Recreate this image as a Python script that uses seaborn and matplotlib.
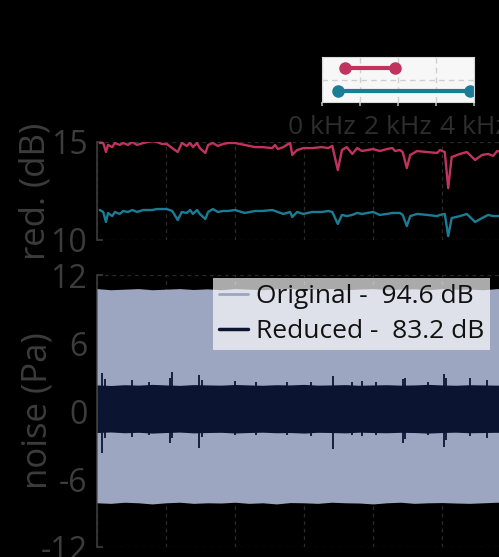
import matplotlib
matplotlib.use("Agg")
import matplotlib.pyplot as plt
import seaborn as sns
from matplotlib.lines import Line2D

# ---- top panel: noise reduction per band (x in grid units) ----
freq = [0.04, 0.09, 0.13, 0.16, 0.22, 0.26, 0.33, 0.38, 0.45, 0.51, 0.58, 0.67,
        0.80, 0.87, 0.94, 1.01, 1.09, 1.17, 1.23, 1.30, 1.35, 1.39, 1.45, 1.49,
        1.57, 1.61, 1.68, 1.75, 1.83, 1.90, 2.00, 2.14, 2.29, 2.39, 2.54, 2.58,
        2.62, 2.70, 2.75, 2.80, 2.83, 2.90, 2.99, 3.12, 3.26, 3.35, 3.41, 3.49,
        3.55, 3.62, 3.70, 3.77, 3.84, 4.00, 4.10, 4.20, 4.28, 4.32, 4.39, 4.43,
        4.49, 4.54, 4.64, 4.78, 4.93, 4.97, 5.04, 5.09, 5.14, 5.26, 5.36, 5.48,
        5.58, 5.67, 5.74, 5.80, 5.90]
red_narrow = [14.95, 14.95, 14.49, 14.85, 14.74, 14.95, 14.85, 14.95, 14.85, 15.0,
              14.85, 14.95, 15.05, 15.0, 14.9, 14.9, 14.69, 14.49, 14.95, 14.8,
              14.95, 14.74, 14.95, 14.69, 14.44, 14.85, 14.95, 14.8, 14.9, 14.95,
              14.95, 14.85, 14.74, 14.74, 14.69, 14.85, 14.64, 14.74, 14.85, 14.95,
              14.34, 14.59, 14.69, 14.69, 14.74, 14.69, 14.8, 13.57, 14.59, 14.74,
              14.39, 14.69, 14.54, 14.64, 14.54, 14.64, 14.69, 14.54, 14.59, 14.49,
              13.67, 14.34, 14.54, 14.49, 14.44, 14.59, 14.49, 12.65, 14.23, 14.39,
              14.49, 14.08, 14.34, 14.39, 14.29, 14.54, 14.45]
red_wide = [11.53, 11.43, 10.92, 11.38, 11.22, 11.43, 11.33, 11.48, 11.43, 11.53,
            11.43, 11.53, 11.53, 11.58, 11.58, 11.58, 11.48, 11.02, 11.43, 11.38,
            11.53, 11.33, 11.53, 11.33, 11.07, 11.43, 11.58, 11.43, 11.48, 11.48,
            11.53, 11.38, 11.48, 11.48, 11.53, 11.48, 11.43, 11.33, 11.38, 11.43,
            11.17, 11.43, 11.33, 11.43, 11.43, 11.48, 11.43, 10.82, 11.28, 11.22,
            11.28, 11.38, 11.33, 11.43, 11.28, 11.33, 11.38, 11.38, 11.38, 11.28,
            10.71, 11.22, 11.33, 11.28, 11.22, 11.28, 11.33, 10.20, 11.12, 11.22,
            11.33, 10.92, 11.12, 11.28, 11.22, 11.22, 11.25]

# ---- bottom panel: noise envelopes (Pa) ----
t = [0.0, 0.2, 0.4, 0.6, 0.8, 1.0, 1.2, 1.4, 1.6, 1.8, 2.0, 2.2, 2.4, 2.6, 2.8, 3.0,
     3.2, 3.4, 3.6, 3.8, 4.0, 4.2, 4.4, 4.6, 4.8, 5.0, 5.2, 5.4, 5.6, 5.8, 6.0, 6.2]
orig_hi = [10.8, 10.7, 10.75, 10.8, 10.7, 10.75, 10.8, 10.72, 10.78, 10.7, 10.8,
           10.75, 10.7, 10.78, 10.8, 10.72, 10.75, 10.8, 10.7, 10.76, 10.8, 10.72,
           10.75, 10.78, 10.7, 10.8, 10.74, 10.76, 10.7, 10.8, 10.75, 10.78]
orig_lo = [-8.1, -8.15, -8.05, -8.1, -8.2, -8.1, -8.05, -8.15, -8.1, -8.12, -8.05,
           -8.15, -8.1, -8.2, -8.08, -8.1, -8.15, -8.05, -8.1, -8.12, -8.2, -8.1,
           -8.05, -8.15, -8.1, -8.08, -8.12, -8.15, -8.1, -8.05, -8.1, -8.12]
redu_hi = [2.3, 2.25, 2.32, 2.28, 2.35, 2.3, 2.26, 2.33, 2.3, 2.28, 2.34, 2.3,
           2.27, 2.32, 2.3, 2.35, 2.28, 2.3, 2.33, 2.27, 2.3, 2.32, 2.28, 2.3,
           2.35, 2.3, 2.27, 2.32, 2.3, 2.28, 2.33, 2.3]
redu_lo = [-1.9, -1.85, -1.92, -1.88, -1.95, -1.9, -1.86, -1.93, -1.9, -1.88, -1.94,
           -1.9, -1.87, -1.92, -1.9, -1.95, -1.88, -1.9, -1.93, -1.87, -1.9, -1.92,
           -1.88, -1.9, -1.95, -1.9, -1.87, -1.92, -1.9, -1.88, -1.93, -1.9]
spike_t = [0.07, 0.12, 0.51, 0.75, 1.06, 1.09, 1.48, 1.52, 2.0, 2.3, 2.75, 3.1,
           3.42, 3.7, 3.84, 4.05, 4.43, 4.47, 4.8, 5.03, 5.06, 5.41, 5.65, 5.9]
spike_hi = [3.35, 2.8, 2.73, 2.6, 2.9, 3.44, 3.17, 2.7, 2.64, 2.55, 2.6, 2.55,
            3.09, 2.6, 2.64, 2.6, 2.82, 2.9, 2.55, 3.26, 2.9, 2.91, 2.73, 2.6]
spike_lo = [-3.71, -2.4, -2.3, -2.1, -2.83, -2.4, -3.27, -2.3, -2.1, -2.15, -2.1,
            -2.2, -3.36, -2.1, -2.2, -2.15, -2.83, -2.5, -2.1, -3.18, -2.6, -2.2,
            -2.4, -2.1]
legend_labels = ["Original -  94.6 dB", "Reduced -  83.2 dB"]

# ---- inset: frequency bands (kHz) ----
band_lo = [0.6, 0.42]
band_hi = [1.92, 3.9]
khz_ticks = [0, 1, 2, 3, 4]
khz_labels = ["0 kHz", "", "2 kHz", "", "4 kHz"]

C_NARROW = "#c0335f"
C_WIDE = "#1a7d96"
C_ORIG = "#9ca6c0"
C_RED = "#0b1430"
TXT = "#3c3c3c"
GRID = "#2a2a2a"

sns.set_theme(style="ticks")
plt.rcParams["font.family"] = ["Open Sans", "DejaVu Sans"]
plt.rcParams["axes.unicode_minus"] = False

fig = plt.figure(figsize=(4.99, 5.57), dpi=100, facecolor="black")


def style_axis(ax):
    ax.set_facecolor("black")
    for side in ["top", "right", "bottom"]:
        ax.spines[side].set_visible(False)
    ax.spines["left"].set_color("#3a3a3a")
    ax.grid(True, ls=(0, (3, 3)), color=GRID, lw=0.9)
    ax.set_xlim(0, 7)
    ax.set_xticks(range(8))
    ax.tick_params(axis="x", length=0, labelbottom=False)
    ax.tick_params(axis="y", direction="in", length=4, color="#3a3a3a",
                   labelsize=23, labelcolor=TXT, pad=7)


# top: reduction
ax1 = fig.add_axes([97 / 499, 1 - 240 / 557, 483 / 499, 98 / 557])
style_axis(ax1)
sns.lineplot(x=freq, y=red_narrow, color=C_NARROW, lw=1.7, ax=ax1)
sns.lineplot(x=freq, y=red_wide, color=C_WIDE, lw=1.7, ax=ax1)
ax1.set_ylim(10, 15)
ax1.set_yticks([10, 15])
ax1.set_ylabel("red. (dB)", fontsize=25, color=TXT)
ax1.yaxis.set_label_coords(-44 / 483, 0.5)

# bottom: noise
ax2 = fig.add_axes([97 / 499, 1 - 547 / 557, 483 / 499, 272 / 557])
style_axis(ax2)
ax2.set_axisbelow(True)
ax2.fill_between(t, orig_lo, orig_hi, color=C_ORIG, lw=0, zorder=3)
ax2.fill_between(t, redu_lo, redu_hi, color=C_RED, lw=0, zorder=3)
ax2.vlines(spike_t, spike_lo, spike_hi, color=C_RED, lw=1.3, zorder=3)
ax2.set_ylim(-12, 12)
ax2.set_yticks([-12, -6, 0, 6, 12])
ax2.set_ylabel("noise (Pa)", fontsize=25, color=TXT)
ax2.yaxis.set_label_coords(-42 / 483, 0.5)
handles = [Line2D([], [], color=C_ORIG, lw=2), Line2D([], [], color=C_RED, lw=2.5)]
leg = ax2.legend(handles, legend_labels, loc="upper left",
                 bbox_to_anchor=(213 / 499, 1 - 278 / 557),
                 bbox_transform=fig.transFigure, fontsize=19, frameon=True,
                 fancybox=False, framealpha=0.67, facecolor="white",
                 edgecolor="none", handlelength=1.1, handletextpad=0.3,
                 borderpad=0.22, labelspacing=0.4, borderaxespad=0)
for txt in leg.get_texts():
    txt.set_color("#111111")
leg.set_zorder(5)

# inset: bands
ax3 = fig.add_axes([322 / 499, 1 - 102 / 557, 152 / 499, 45 / 557])
ax3.set_facecolor("#f7f7f7")
for s in ax3.spines.values():
    s.set_color("#d8d8d8")
    s.set_linewidth(0.8)
for i, c in enumerate([C_NARROW, C_WIDE]):
    ax3.plot([band_lo[i], band_hi[i]], [i, i], color=c, lw=3,
             marker="o", ms=8, solid_capstyle="butt")
ax3.set_xlim(0, 4)
ax3.set_ylim(1.5, -0.5)
ax3.set_xticks(khz_ticks)
ax3.set_xticklabels(khz_labels)
ax3.set_yticks([0.5])
ax3.set_yticklabels([])
ax3.grid(True, ls=(0, (4, 3)), color="#cfcfcf", lw=1)
ax3.tick_params(axis="y", length=0)
ax3.tick_params(axis="x", length=3, color="#aaaaaa", labelsize=19,
                labelcolor="#2e2e2e", pad=6)

fig.savefig("out.png", dpi=100, facecolor="black")
